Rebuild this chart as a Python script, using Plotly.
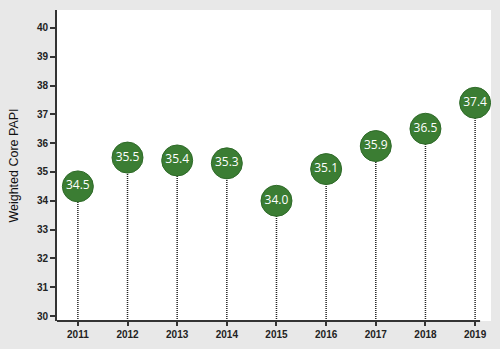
import plotly.graph_objects as go

# Weighted core PAPI score by year
years = [2011, 2012, 2013, 2014, 2015, 2016, 2017, 2018, 2019]
scores = [34.5, 35.5, 35.4, 35.3, 34.0, 35.1, 35.9, 36.5, 37.4]
y_ticks = [30, 31, 32, 33, 34, 35, 36, 37, 38, 39, 40]

Y_MIN, Y_MAX = 29.83, 40.62
X_MIN, X_MAX = 2010.58, 2019.32
GREEN = "#3b7d33"

fig = go.Figure()

# dotted stems from the axis up to each value
for yr, val in zip(years, scores):
    fig.add_trace(go.Scatter(
        x=[yr, yr], y=[Y_MIN, val], mode="lines",
        line=dict(color="#222222", width=1.5, dash="1px,1px"),
        hoverinfo="skip", showlegend=False,
    ))

# value bubbles
fig.add_trace(go.Scatter(
    x=years, y=scores, mode="markers+text",
    marker=dict(size=31, color=GREEN, line=dict(color="#2e6a28", width=1)),
    text=[f"{v:.1f}" for v in scores],
    textposition="middle center",
    textfont=dict(family="Open Sans, Arial, sans-serif", size=12, color="white"),
    showlegend=False,
))

# x axis baseline (stops short of the right edge of the plot area)
fig.add_shape(type="line", xref="x", yref="paper",
              x0=X_MIN, x1=2019.1, y0=0, y1=0,
              line=dict(color="#333333", width=2))

fig.update_layout(
    width=500, height=349,
    margin=dict(l=57, r=9, t=10, b=24),
    paper_bgcolor="#e8e8e8",
    plot_bgcolor="white",
    font=dict(family="Arial, Liberation Sans, sans-serif", color="#333333"),
    xaxis=dict(
        range=[X_MIN, X_MAX], tickvals=years, ticktext=[str(y) for y in years],
        showgrid=False, zeroline=False, showline=False,
        ticks="outside", ticklen=4, tickwidth=1.5, tickcolor="#333333",
        tickfont=dict(size=10, color="#222222", weight="bold"),
    ),
    yaxis=dict(
        range=[Y_MIN, Y_MAX], tickvals=y_ticks,
        showgrid=False, zeroline=False,
        showline=True, linecolor="#333333", linewidth=2,
        ticks="outside", ticklen=5, tickwidth=1.5, tickcolor="#333333",
        tickfont=dict(size=10, color="#222222", weight="bold"),
        title=dict(text="Weighted Core PAPI", font=dict(size=12.5, color="#111111"),
                   standoff=16),
    ),
)

fig.write_html("out.html")
